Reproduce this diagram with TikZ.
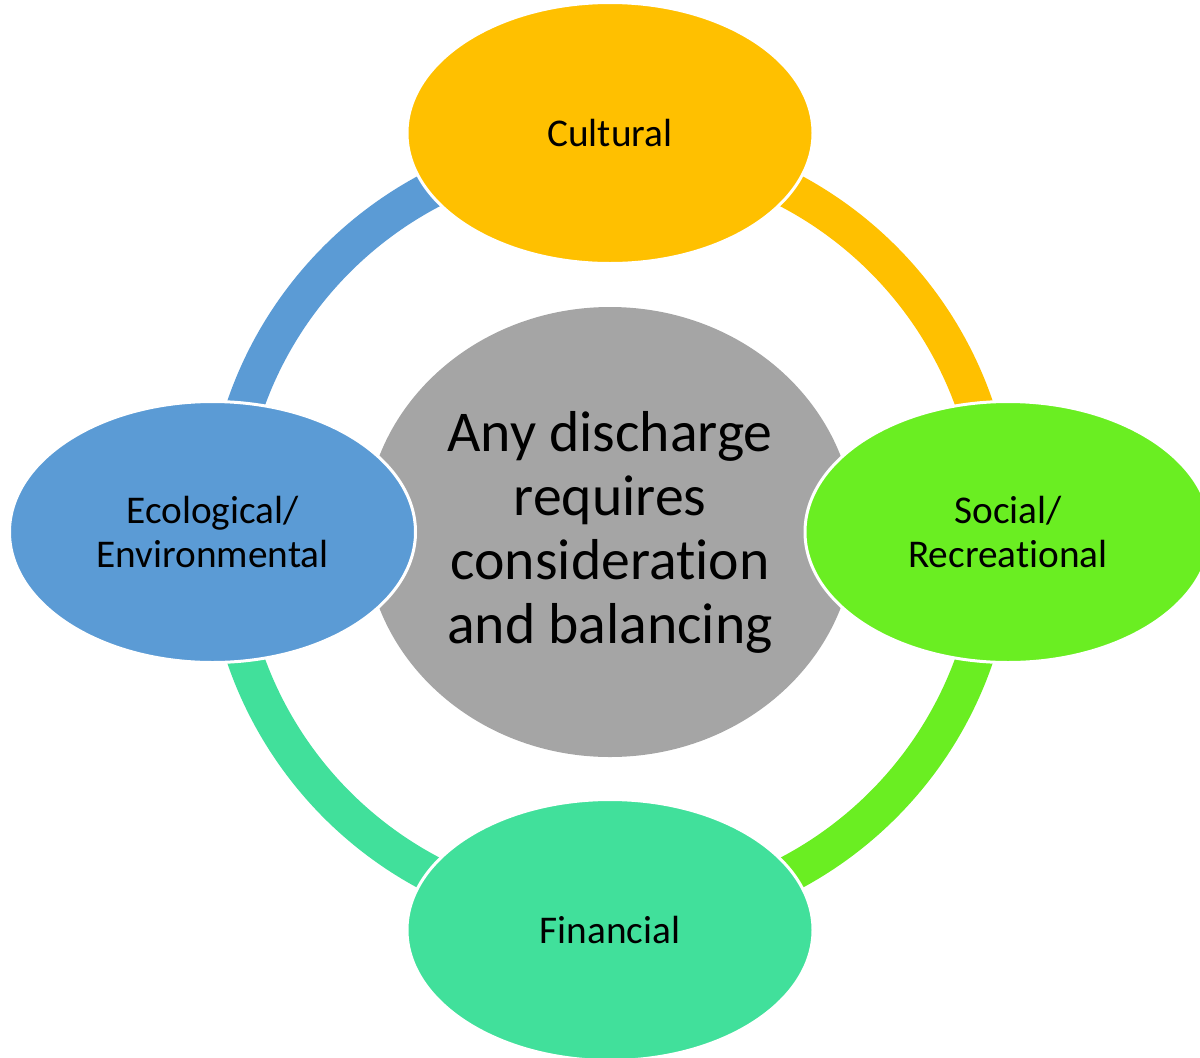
\documentclass[tikz,border=0pt]{standalone}
\usepackage{fontspec}
\setmainfont[Ligatures=NoCommon,RawFeature={-liga;-calt;-dlig}]{Carlito}
\usetikzlibrary{shapes.geometric,backgrounds}
\definecolor{cultC}{HTML}{FFC000}
\definecolor{ecoC}{HTML}{5B9BD5}
\definecolor{socC}{HTML}{6AEE22}
\definecolor{finC}{HTML}{41E09B}
\definecolor{hubC}{HTML}{A5A5A5}
\tikzset{
  pillar/.style={ellipse, inner sep=0pt, minimum width=406pt, minimum height=261pt,
    draw=white, line width=3pt, align=center,
    font=\fontsize{39.3}{44}\selectfont},
  hubnode/.style={ellipse, inner sep=0pt, minimum width=490pt, minimum height=450pt,
    fill=hubC, align=center, font=\fontsize{57.7}{64}\selectfont},
  ring/.style={line width=37pt}
}
\begin{document}
\begin{tikzpicture}[x=1pt,y=-1pt]
\useasboundingbox (0,0) rectangle (1200,1058);
\clip (0,0) rectangle (1200,1058);
\node[hubnode] (hub) at (610,532) {Any discharge\\requires\\considerat\kern0pt ion\\and balancing};
\node[pillar, fill=cultC] (cult) at (610,133) {Cultural};
\node[pillar, fill=ecoC] (eco) at (212.5,532) {Ecological/\\Environmental};
\node[pillar, fill=socC] (soc) at (1008,532) {Social/\\Recreat\kern0pt ional};
\node[pillar, fill=finC] (fin) at (610,930) {Financial};
\begin{pgfonlayer}{background}
\draw[ring, ecoC] (hub.center) ++(185:386) arc[start angle=185, end angle=265, radius=386];
\draw[ring, cultC] (hub.center) ++(275:386) arc[start angle=275, end angle=355, radius=386];
\draw[ring, socC] (hub.center) ++(5:386) arc[start angle=5, end angle=85, radius=386];
\draw[ring, finC] (hub.center) ++(95:386) arc[start angle=95, end angle=175, radius=386];
\end{pgfonlayer}
\end{tikzpicture}
\end{document}
